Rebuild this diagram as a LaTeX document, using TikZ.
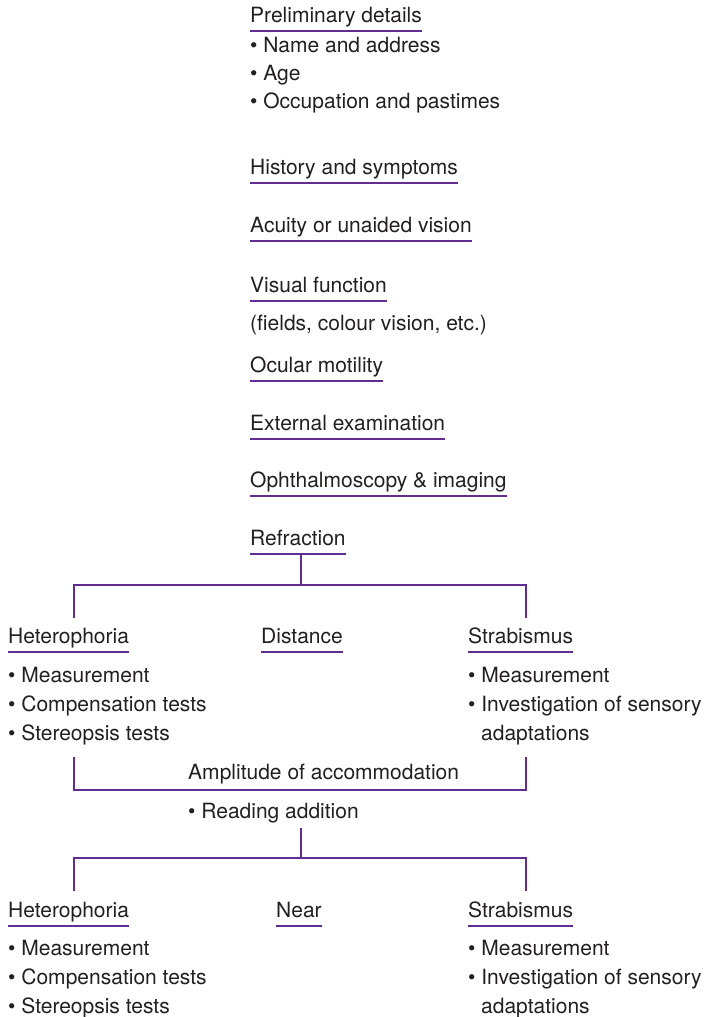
\documentclass[tikz,border=0pt]{standalone}
\usepackage{fontspec}
\setmainfont{TeX Gyre Heros}

\definecolor{treeline}{RGB}{98,45,145}
\definecolor{ink}{RGB}{35,31,32}

\tikzset{
  lbl/.style={anchor=base west, inner sep=0pt, text=ink, font=\fontsize{21}{24}\selectfont},
  uline/.style={draw=treeline, line width=2.2pt},
}
\newcommand{\headrule}[1]{\draw[uline] ([yshift=-9pt]#1.base west) -- ([yshift=-9pt]#1.base east);}

\begin{document}
\begin{tikzpicture}[x=1pt, y=-1pt]
\useasboundingbox (0,0) rectangle (706,1017);

\node[lbl] (prelim) at (250,22) {Preliminary details};
\node[lbl] (name) at (250,52) {\textbullet\ Name and address};
\node[lbl] (age) at (250,80) {\textbullet\ Age};
\node[lbl] (occup) at (250,108) {\textbullet\ Occupation and pastimes};
\node[lbl] (history) at (250,174) {History and symptoms};
\node[lbl] (acuity) at (250,232) {Acuity or unaided vision};
\node[lbl] (visual) at (250,292) {Visual function};
\node[lbl] (fields) at (250,330) {(fields, colour vision, etc.)};
\node[lbl] (ocular) at (250,372) {Ocular motility};
\node[lbl] (external) at (250,430) {External examination};
\node[lbl] (ophthal) at (250,487) {Ophthalmoscopy \& imaging};
\node[lbl] (refraction) at (250,545) {Refraction};
\headrule{prelim}
\headrule{history}
\headrule{acuity}
\headrule{visual}
\headrule{ocular}
\headrule{external}
\headrule{ophthal}
\headrule{refraction}

\coordinate (dtop) at (301,554);
\coordinate (dsplit) at (301,585);
\coordinate (dleft) at (74,618);
\coordinate (dright) at (526,618);
\draw[uline] (dtop) -- (dsplit);
\draw[uline] (dleft) -- (dleft|-dsplit) -- (dright|-dsplit) -- (dright);

\node[lbl] (dhet) at (8,643) {Heterophoria};
\node[lbl] (dist) at (261,643) {Distance};
\node[lbl] (dstrab) at (468,643) {Strabismus};
\headrule{dhet}
\headrule{dist}
\headrule{dstrab}
\node[lbl] (dhmeas) at (8,682) {\textbullet\ Measurement};
\node[lbl] (dhcomp) at (8,711) {\textbullet\ Compensation tests};
\node[lbl] (dhster) at (8,740) {\textbullet\ Stereopsis tests};
\node[lbl] (dsmeas) at (468,682) {\textbullet\ Measurement};
\node[lbl] (dsinv) at (468,711) {\textbullet\ Investigation of sensory};
\node[lbl] (dsadapt) at (481,740) {adaptations};

\coordinate (aleft) at (74,757);
\coordinate (aright) at (526,757);
\coordinate (abase) at (301,790);
\draw[uline] (aleft) -- (aleft|-abase) -- (aright|-abase) -- (aright);
\node[lbl] (amplitude) at (188,779) {Amplitude of accommodation};
\node[lbl] (reading) at (188,818) {\textbullet\ Reading addition};

\coordinate (ntop) at (301,828);
\coordinate (nsplit) at (301,858);
\coordinate (nleft) at (74,891);
\coordinate (nright) at (526,891);
\draw[uline] (ntop) -- (nsplit);
\draw[uline] (nleft) -- (nleft|-nsplit) -- (nright|-nsplit) -- (nright);

\node[lbl] (nhet) at (8,917) {Heterophoria};
\node[lbl] (near) at (276,917) {Near};
\node[lbl] (nstrab) at (468,917) {Strabismus};
\headrule{nhet}
\headrule{near}
\headrule{nstrab}
\node[lbl] (nhmeas) at (8,955) {\textbullet\ Measurement};
\node[lbl] (nhcomp) at (8,984) {\textbullet\ Compensation tests};
\node[lbl] (nhster) at (8,1013) {\textbullet\ Stereopsis tests};
\node[lbl] (nsmeas) at (468,955) {\textbullet\ Measurement};
\node[lbl] (nsinv) at (468,984) {\textbullet\ Investigation of sensory};
\node[lbl] (nsadapt) at (481,1013) {adaptations};
\end{tikzpicture}
\end{document}
